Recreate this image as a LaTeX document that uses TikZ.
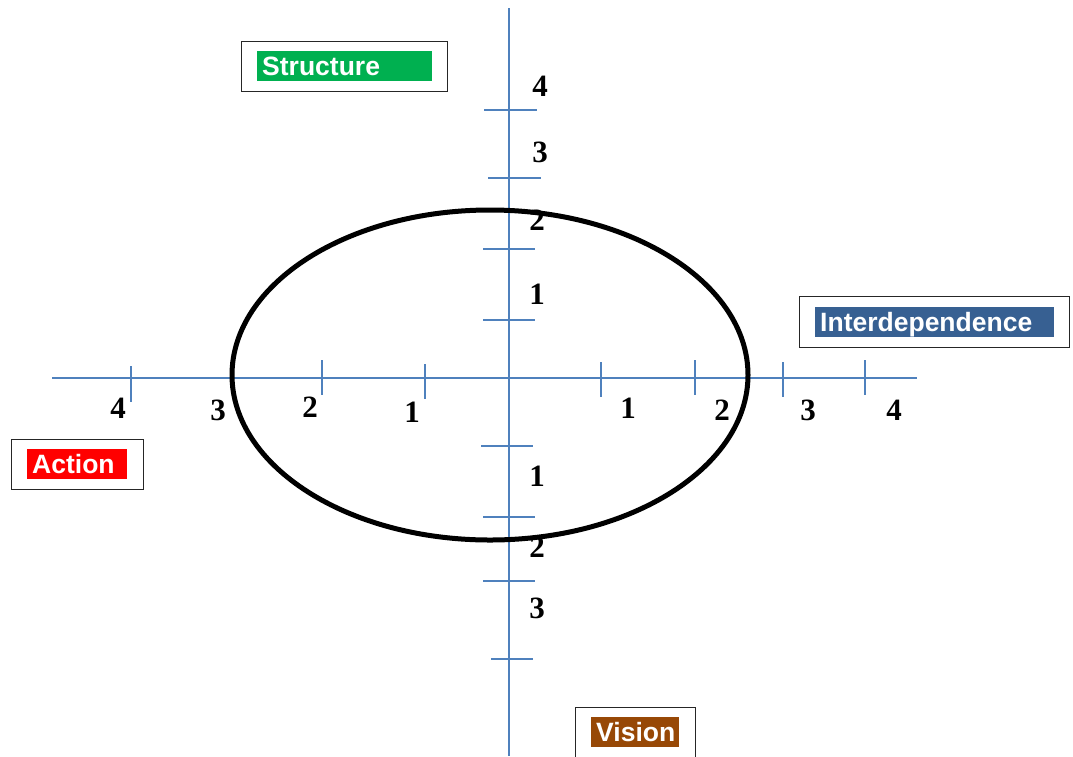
\documentclass[tikz,border=0pt]{standalone}
\usepackage{fontspec}
\usetikzlibrary{shapes.geometric}
\setmainfont{Liberation Serif}
\setsansfont{Liberation Sans}
\definecolor{axisblue}{HTML}{4F81BD}
\definecolor{strgreen}{HTML}{00B050}
\definecolor{intblue}{HTML}{376092}
\definecolor{actred}{HTML}{FF0000}
\definecolor{visbrown}{HTML}{974806}
\tikzset{
  axisline/.style={draw=axisblue, line width=1.8pt},
  tickline/.style={draw=axisblue, line width=1.6pt},
  num/.style={font=\fontsize{31}{32}\selectfont\bfseries, inner sep=0pt},
  outerbox/.style={draw=black!85, line width=1.2pt, fill=white, anchor=north west, inner sep=0pt},
  fillbox/.style={fill=#1, text=white, font=\sffamily\bfseries\fontsize{26.5}{30}\selectfont,
     anchor=north west, inner xsep=5pt, inner ysep=0.5pt, text height=24pt, text depth=5pt,
     minimum height=30pt, align=left},
}
\begin{document}
\begin{tikzpicture}[x=1pt,y=-1pt]
\useasboundingbox (0,0) rectangle (1073,756);
% axes
\coordinate (vtop) at (509,8);
\coordinate (vbot) at (509,756);
\coordinate (hleft) at (52,378);
\coordinate (hright) at (917,378);
\draw[axisline] (vtop) -- (vbot);
\draw[axisline] (hleft) -- (hright);
% ticks on horizontal axis
\foreach \n/\x/\a/\b in {hl4/131/366/402, hl3/233/363/399, hl2/322/360/395, hl1/425/364/399,
                         hr1/601/362/397, hr2/695/360/395, hr3/783/362/397, hr4/865/360/395}{
  \coordinate (\n a) at (\x,\a);
  \coordinate (\n b) at (\x,\b);
  \draw[tickline] (\n a) -- (\n b);
}
% ticks on vertical axis
\foreach \n/\y/\a/\b in {vt4/110/484/537, vt3/178/488/541, vt2/249/483/535, vt1/320/483/535,
                         vb1/446/481/533, vb2/517/483/535, vb3/581/483/535, vb4/659/491/533}{
  \coordinate (\n a) at (\a,\y);
  \coordinate (\n b) at (\b,\y);
  \draw[tickline] (\n a) -- (\n b);
}
% ellipse
\node[draw=black, line width=5pt, ellipse, minimum width=516pt, minimum height=330pt, inner sep=0pt] (ell) at (490,375) {};
% numbers
\node[num] (nl4) at (118,408) {4};
\node[num] (nl3) at (218,410) {3};
\node[num] (nl2) at (310,407) {2};
\node[num] (nl1) at (412,412) {1};
\node[num] (nr1) at (628,408) {1};
\node[num] (nr2) at (722,410) {2};
\node[num] (nr3) at (808,410) {3};
\node[num] (nr4) at (894,410) {4};
\node[num] (nt4) at (540,86) {4};
\node[num] (nt3) at (540,152) {3};
\node[num] (nt2) at (537,220) {2};
\node[num] (nt1) at (537,294) {1};
\node[num] (nb1) at (537,476) {1};
\node[num] (nb2) at (537,547) {2};
\node[num] (nb3) at (537,608) {3};
% label boxes
\node[outerbox, minimum width=206pt, minimum height=50pt] (structbox) at (241,41) {};
\node[fillbox=strgreen, text width=165pt] (struct) at (257,51) {Structure};
\node[outerbox, minimum width=270pt, minimum height=51pt] (interbox) at (799,296) {};
\node[fillbox=intblue, text width=229pt] (inter) at (815,307) {Interdependence};
\node[outerbox, minimum width=132pt, minimum height=50pt] (actbox) at (11,439) {};
\node[fillbox=actred, text width=90pt] (act) at (27,449) {Action};
\node[outerbox, minimum width=120pt, minimum height=52pt] (visbox) at (575,707) {};
\node[fillbox=visbrown, text width=78pt] (vis) at (591,717) {Vision};
\end{tikzpicture}
\end{document}
